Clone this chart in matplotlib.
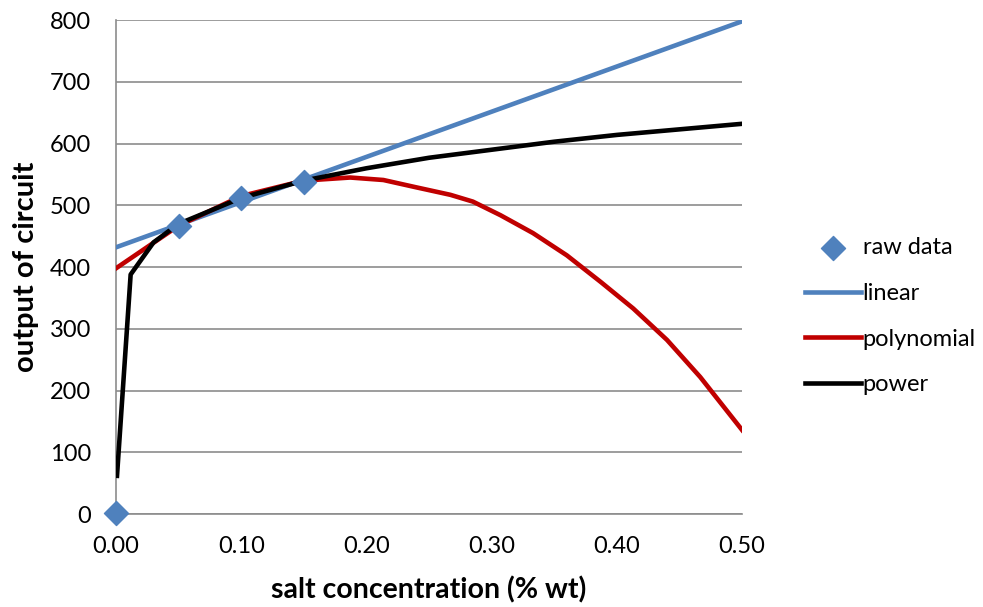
import matplotlib.pyplot as plt

plt.rcParams['font.family'] = ['Lato', 'DejaVu Sans']

# raw data
raw_x = [0.0, 0.05, 0.10, 0.15]
raw_y = [2, 467, 512, 538]

# linear trend
lin_x = [0.0, 0.5]
lin_y = [432, 798]

# polynomial trend
poly_x = [0.0, 0.05, 0.10, 0.15, 0.187, 0.2135, 0.240, 0.267, 0.285, 0.307, 0.333,
          0.360, 0.387, 0.413, 0.440, 0.4665, 0.5]
poly_y = [398, 467, 515, 540, 545, 541, 529, 517, 506, 484, 455,
          419, 376, 333, 282, 222, 136]

# power trend
pow_x = [0.0008, 0.0117, 0.03, 0.05, 0.10, 0.15, 0.20, 0.25, 0.30, 0.35, 0.40, 0.45, 0.50]
pow_y = [62, 388, 440, 470, 512, 540, 560, 577, 590, 603, 614, 623, 632]

fig = plt.figure(figsize=(9.83, 6.07), dpi=100)
ax = fig.add_axes([0.118, 0.153, 0.637, 0.814])

ax.plot(lin_x, lin_y, color='#4F81BD', lw=3.3, label='linear', zorder=3)
ax.plot(poly_x, poly_y, color='#C00000', lw=3.3, label='polynomial', zorder=3)
ax.plot(pow_x, pow_y, color='black', lw=3.3, label='power', zorder=4)
ax.scatter(raw_x, raw_y, marker='D', s=150, color='#4F81BD', label='raw data', zorder=5, clip_on=False)

ax.set_xlim(0, 0.5)
ax.set_ylim(0, 800)
ax.set_xticks([0, 0.1, 0.2, 0.3, 0.4, 0.5])
ax.set_xticklabels(['0.00', '0.10', '0.20', '0.30', '0.40', '0.50'])
ax.set_yticks(range(0, 801, 100))
ax.yaxis.grid(True, color='#8C8C8C', lw=1.2)
ax.set_axisbelow(True)
for s in ['top', 'right']:
    ax.spines[s].set_visible(False)
for s in ['left', 'bottom']:
    ax.spines[s].set_color('#8C8C8C')
    ax.spines[s].set_linewidth(1.2)
ax.tick_params(axis='both', labelsize=17, length=0)
ax.tick_params(axis='x', pad=16)
ax.tick_params(axis='y', pad=18)

ax.set_xlabel('salt concentration (% wt)', fontsize=20.5, fontweight='bold', labelpad=14)
ax.set_ylabel('output of circuit', fontsize=21, fontweight='bold', labelpad=8)

h, l = ax.get_legend_handles_labels()
order = [3, 0, 1, 2]
fig.legend([h[i] for i in order], [l[i] for i in order], loc='center left',
           bbox_to_anchor=(0.797, 0.479), frameon=False, fontsize=17,
           handlelength=2.4, handletextpad=0.05, labelspacing=1.05)

plt.savefig('out.png')
